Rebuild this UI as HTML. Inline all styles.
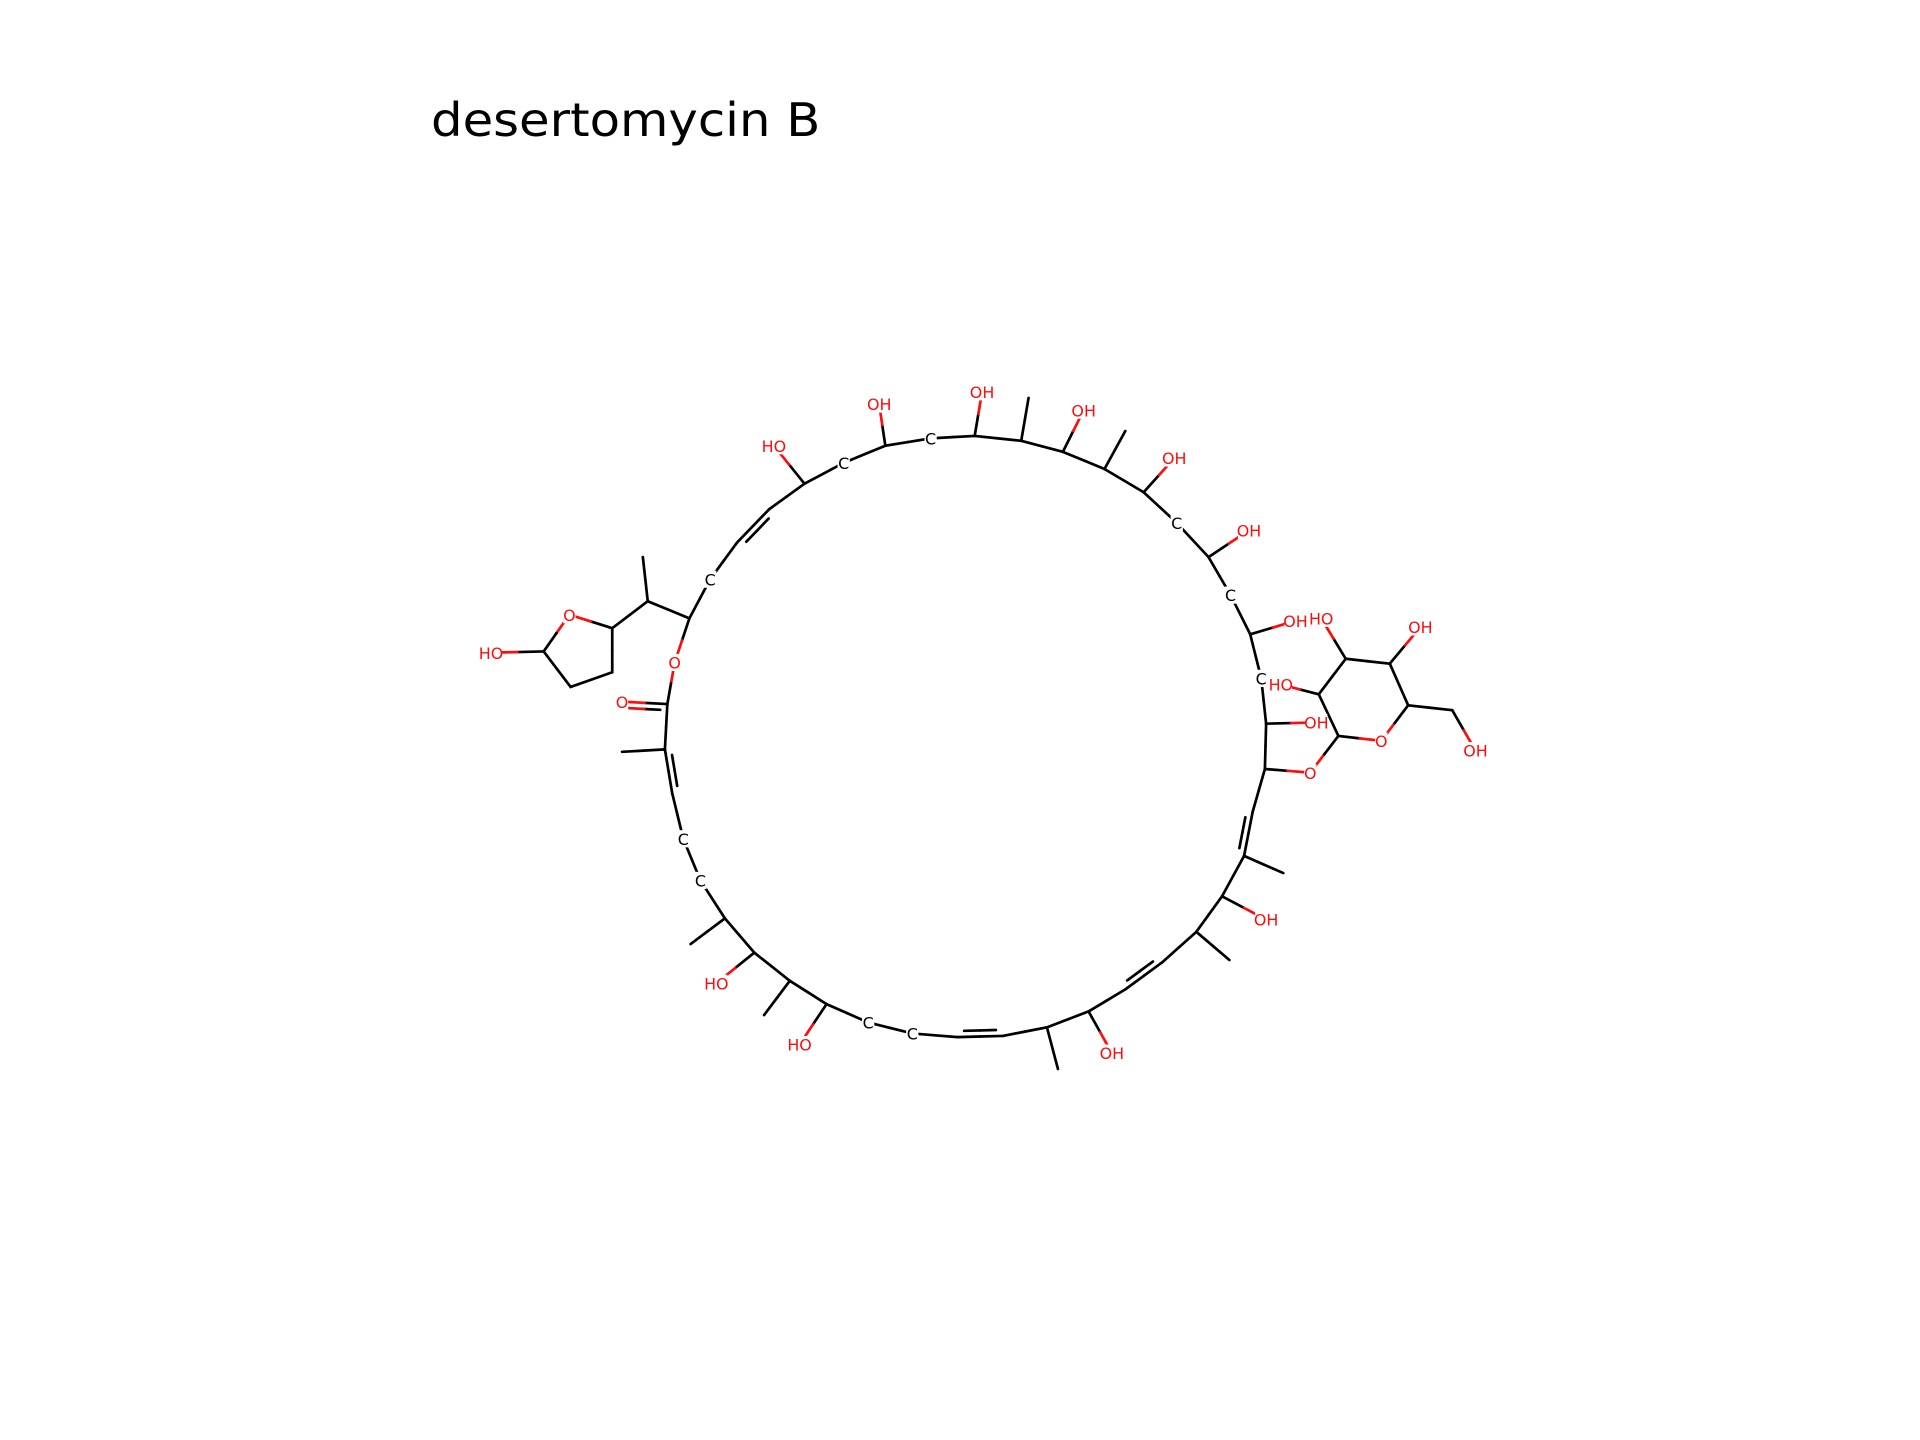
<!DOCTYPE html>
<html><head><meta charset="utf-8"><style>
html,body{margin:0;padding:0;background:#fff;}
svg{display:block;}
</style></head><body>
<svg id="mol" width="1920" height="1440" viewBox="0 0 1568 1176" xmlns="http://www.w3.org/2000/svg">
<rect width="1568" height="1176" fill="#fff"/>
<text x="352" y="111" font-family="DejaVu Sans, Liberation Sans, sans-serif" font-size="38" textLength="318" lengthAdjust="spacingAndGlyphs" fill="#000">desertomycin B</text>
<g id="bonds"></g>
<g id="labels"></g>
</svg>
<script>
const atomX=[551,545,508,543,508,549,558,572,592,564,616,585,645,624,675,653,709,745,782,819,855,864,889,908,919,949,977,1004,998,1034,1016,1048,1023,1033,1070,1034,1075,1030,1021,1058,1005,987,1020,961,934,959,902,919,868,885,834,840,796,802,760,723,718,689,657,632,628,602,580,563,529,525,500,465,444,401,466,500,1093,1128,1150,1186,1205,1135,1160,1099,1079,1077,1046];
const atomY=[541,575,573,612,614,648,685,719,750,771,778,803,801,829,820,853,835,844,847,846,839,873,826,860,808,786,761,784,732,751,699,713,663,628,631,591,590,554,518,507,486,455,433,427,402,374,383,352,369,335,360,325,356,320,358,364,330,378,395,364,416,443,473,505,491,455,513,502,532,533,561,549,601,605,576,580,613,542,512,538,505,567,559];
const atomLabel=["O","","O","","","","C","C","","","","HO","","","","HO","C","C","","","","","","OH","","","","","","OH","","","","","O","","OH","C","","OH","C","","OH","C","","OH","","","","OH","","","","OH","C","","OH","C","","HO","","","C","","","","","O","","HO","","","","O","","","OH","","OH","","HO","","HO"];
const bondA=[0,1,3,5,6,7,8,10,12,14,16,17,18,19,20,22,24,25,26,28,30,32,33,35,37,38,40,41,43,44,46,48,50,52,54,55,57,58,60,61,62,63,1,3,8,10,12,14,20,22,26,28,30,33,35,38,41,44,46,48,50,52,55,58,63,64,64,66,67,68,68,70,71,34,72,73,74,75,74,77,77,79,79,81,81];
const bondB=[1,3,5,6,7,8,10,12,14,16,17,18,19,20,22,24,25,26,28,30,32,33,35,37,38,40,41,43,44,46,48,50,52,54,55,57,58,60,61,62,63,0,2,4,9,11,13,15,21,23,27,29,31,34,36,39,42,45,47,49,51,53,56,59,64,65,66,67,68,69,70,71,66,72,73,74,75,76,77,78,79,80,81,82,72];
const bondOrder=[1,1,2,1,1,1,1,1,1,1,1,1,2,1,1,1,2,1,1,1,2,1,1,1,1,1,1,1,1,1,1,1,1,1,1,1,1,1,2,1,1,1,2,1,1,1,1,1,1,1,1,1,1,1,1,1,1,1,1,1,1,1,1,1,1,1,1,1,1,1,1,1,1,1,1,1,1,1,1,1,1,1,1,1,1];
const NS="http://www.w3.org/2000/svg";
const gB=document.getElementById('bonds'), gL=document.getElementById('labels');
const colorOf=i=>atomLabel[i].indexOf('O')>=0?'#ff0d0d':'#000';
function seg(x1,y1,x2,y2,c){
  const l=document.createElementNS(NS,'line');
  l.setAttribute('x1',x1);l.setAttribute('y1',y1);l.setAttribute('x2',x2);l.setAttribute('y2',y2);
  l.setAttribute('stroke',c);l.setAttribute('stroke-width','2.2');l.setAttribute('stroke-linecap','round');
  
  
  gB.appendChild(l);
}
const cx=790,cy=600;
for(let k=0;k<bondA.length;k++){
  const a=bondA[k],b=bondB[k];
  const x1=atomX[a],y1=atomY[a],x2=atomX[b],y2=atomY[b];
  const mx=(x1+x2)/2,my=(y1+y2)/2;
  seg(x1,y1,mx,my,colorOf(a));seg(mx,my,x2,y2,colorOf(b));
  if(bondOrder[k]===2){
    const dx=x2-x1,dy=y2-y1,L=Math.hypot(dx,dy);
    let nx=-dy/L,ny=dx/L;
    if(a===1){ if(ny<0){nx=-nx;ny=-ny;} }
    else if((cx-mx)*nx+(cy-my)*ny<0){nx=-nx;ny=-ny;}
    const o=5,s=0.15;
    const ax=x1+dx*s+nx*o,ay=y1+dy*s+ny*o,bx=x2-dx*s+nx*o,by=y2-dy*s+ny*o;
    const ux=(ax+bx)/2,uy=(ay+by)/2;
    seg(ax,ay,ux,uy,colorOf(a));seg(ux,uy,bx,by,colorOf(b));
  }
}
for(let i=0;i<atomX.length;i++){
  const t=atomLabel[i]; if(!t) continue;
  const w=t.length*8+2;
  const r=document.createElementNS(NS,'rect');
  r.setAttribute('x',atomX[i]-w/2);r.setAttribute('y',atomY[i]-7);r.setAttribute('width',w);r.setAttribute('height',14);r.setAttribute('fill','#fff');
  
  
  gL.appendChild(r);
  const tx=document.createElementNS(NS,'text');
  tx.setAttribute('x',atomX[i]);tx.setAttribute('y',atomY[i]+5);tx.setAttribute('text-anchor','middle');
  tx.setAttribute('font-family','DejaVu Sans, Liberation Sans, sans-serif');tx.setAttribute('font-size','13');
  tx.setAttribute('fill',t==='C'?'#000':'#ff0d0d');
  tx.textContent=t;
  
  
  gL.appendChild(tx);
}
</script>
</body></html>
